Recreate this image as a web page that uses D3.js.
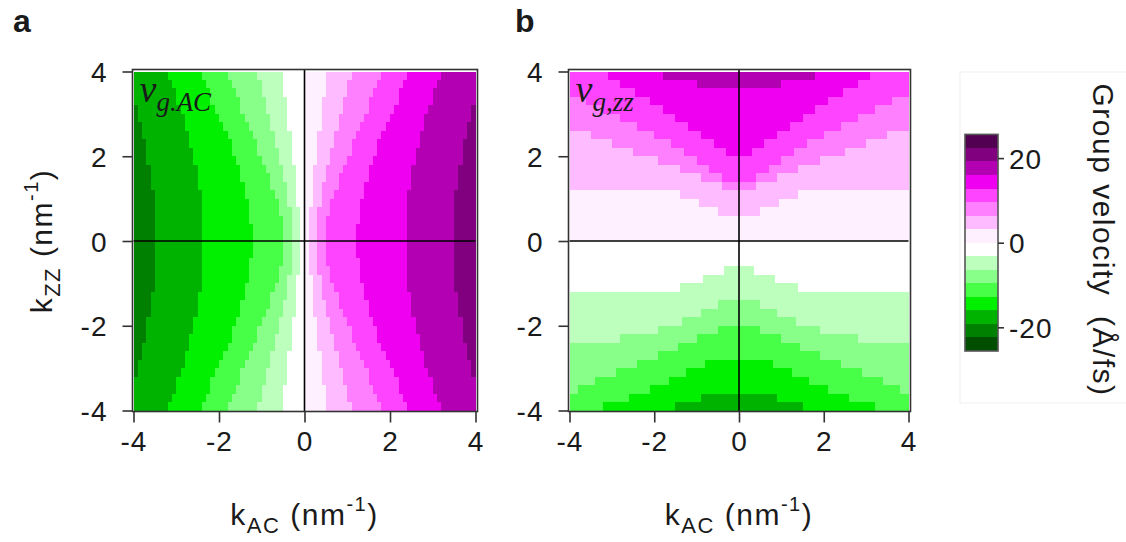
<!DOCTYPE html>
<html><head><meta charset="utf-8">
<script src="https://cdn.jsdelivr.net/npm/d3@7"></script>
<style>
body{margin:0;background:#fff}
svg{display:block}
text{font-family:"Liberation Sans",Arial,sans-serif;fill:#1a1a1a}
</style>
</head><body>
<svg id="chart" width="1126" height="542"></svg>
<script>
// ---------------- data ----------------
const kTicks = [-4, -2, 0, 2, 4];
const cbTicks = [-20, 0, 20];
// colour-table thresholds (Å/fs) and band colours (green -> white -> magenta)
const thresholds = [-22.4, -19.2, -16, -12.8, -9.6, -6.4, -3.2, 0, 3.2, 6.4, 9.6, 12.8, 16, 19.2, 22.4];
const bandColors = ["#004f00", "#008000", "#00b300", "#00f000", "#48ff48", "#88ff88", "#bdffbd", "#ffffff",
                    "#fff0ff", "#ffbbff", "#ff80ff", "#ff44ff", "#f000f0", "#b300b3", "#800080", "#520052"];
const cbRange = [-25.6, 25.6];
// k_ZZ row centres of the image (nm^-1), top to bottom
const kzzRows = [3.9, 3.7, 3.5, 3.3, 3.1, 2.9, 2.7, 2.5, 2.3, 2.1, 1.9, 1.7, 1.5, 1.3, 1.1, 0.9, 0.7, 0.5, 0.3, 0.1,
                 -0.1, -0.3, -0.5, -0.7, -0.9, -1.1, -1.3, -1.5, -1.7, -1.9, -2.1, -2.3, -2.5, -2.7, -2.9, -3.1, -3.3, -3.5, -3.7, -3.9];

// panel a (v_g,AC): k_AC where each row crosses each contour level
const acNeg19 = [-4.2,-4.1,-4.1,-4.0,-3.9,-3.9,-3.8,-3.8,-3.7,-3.7,-3.7,-3.6,-3.6,-3.6,-3.5,-3.5,-3.5,-3.5,-3.5,-3.5,
                 -3.5,-3.5,-3.5,-3.5,-3.5,-3.5,-3.6,-3.6,-3.6,-3.7,-3.7,-3.7,-3.8,-3.8,-3.9,-3.9,-4.0,-4.1,-4.1,-4.2];
const acNeg16 = [-3.2,-3.1,-3.0,-3.0,-2.9,-2.8,-2.8,-2.7,-2.7,-2.6,-2.6,-2.5,-2.5,-2.5,-2.4,-2.4,-2.4,-2.4,-2.4,-2.4,
                 -2.4,-2.4,-2.4,-2.4,-2.4,-2.4,-2.5,-2.5,-2.5,-2.6,-2.6,-2.7,-2.7,-2.8,-2.8,-2.9,-3.0,-3.0,-3.1,-3.2];
const acNeg13 = [-2.4,-2.3,-2.2,-2.2,-2.1,-2.0,-1.9,-1.8,-1.7,-1.7,-1.6,-1.5,-1.5,-1.4,-1.4,-1.3,-1.3,-1.3,-1.2,-1.2,
                 -1.2,-1.2,-1.3,-1.3,-1.3,-1.4,-1.4,-1.5,-1.5,-1.6,-1.7,-1.7,-1.8,-1.9,-2.0,-2.1,-2.2,-2.2,-2.3,-2.4];
const acNeg9  = [-1.8,-1.7,-1.6,-1.5,-1.5,-1.4,-1.3,-1.2,-1.1,-1.1,-1.0,-0.9,-0.8,-0.8,-0.7,-0.6,-0.6,-0.5,-0.5,-0.5,
                 -0.5,-0.5,-0.5,-0.6,-0.6,-0.7,-0.8,-0.8,-0.9,-1.0,-1.1,-1.1,-1.2,-1.3,-1.4,-1.5,-1.5,-1.6,-1.7,-1.8];
const acNeg6  = [-1.1,-1.0,-1.0,-0.9,-0.9,-0.8,-0.8,-0.7,-0.7,-0.6,-0.6,-0.5,-0.5,-0.4,-0.4,-0.4,-0.3,-0.3,-0.3,-0.3,
                 -0.3,-0.3,-0.3,-0.3,-0.4,-0.4,-0.4,-0.5,-0.5,-0.6,-0.6,-0.7,-0.7,-0.8,-0.8,-0.9,-0.9,-1.0,-1.0,-1.1];
const acNeg3  = [-0.5,-0.5,-0.5,-0.4,-0.4,-0.4,-0.4,-0.3,-0.3,-0.3,-0.3,-0.2,-0.2,-0.2,-0.2,-0.2,-0.1,-0.1,-0.1,-0.1,
                 -0.1,-0.1,-0.1,-0.1,-0.2,-0.2,-0.2,-0.2,-0.2,-0.3,-0.3,-0.3,-0.3,-0.4,-0.4,-0.4,-0.4,-0.5,-0.5,-0.5];
const acPos3  = [0.5,0.5,0.5,0.4,0.4,0.4,0.4,0.3,0.3,0.3,0.3,0.2,0.2,0.2,0.2,0.2,0.1,0.1,0.1,0.1,
                 0.1,0.1,0.1,0.1,0.2,0.2,0.2,0.2,0.2,0.3,0.3,0.3,0.3,0.4,0.4,0.4,0.4,0.5,0.5,0.5];
const acPos6  = [1.1,1.0,1.0,0.9,0.9,0.8,0.8,0.7,0.7,0.6,0.6,0.5,0.5,0.4,0.4,0.4,0.3,0.3,0.3,0.3,
                 0.3,0.3,0.3,0.3,0.4,0.4,0.4,0.5,0.5,0.6,0.6,0.7,0.7,0.8,0.8,0.9,0.9,1.0,1.0,1.1];
const acPos9  = [1.8,1.7,1.6,1.5,1.5,1.4,1.3,1.2,1.1,1.1,1.0,0.9,0.8,0.8,0.7,0.6,0.6,0.5,0.5,0.5,
                 0.5,0.5,0.5,0.6,0.6,0.7,0.8,0.8,0.9,1.0,1.1,1.1,1.2,1.3,1.4,1.5,1.5,1.6,1.7,1.8];
const acPos13 = [2.4,2.3,2.2,2.2,2.1,2.0,1.9,1.8,1.7,1.7,1.6,1.5,1.5,1.4,1.4,1.3,1.3,1.3,1.2,1.2,
                 1.2,1.2,1.3,1.3,1.3,1.4,1.4,1.5,1.5,1.6,1.7,1.7,1.8,1.9,2.0,2.1,2.2,2.2,2.3,2.4];
const acPos16 = [3.2,3.1,3.0,3.0,2.9,2.8,2.8,2.7,2.7,2.6,2.6,2.5,2.5,2.5,2.4,2.4,2.4,2.4,2.4,2.4,
                 2.4,2.4,2.4,2.4,2.4,2.4,2.5,2.5,2.5,2.6,2.6,2.7,2.7,2.8,2.8,2.9,3.0,3.0,3.1,3.2];
const acPos19 = [4.2,4.1,4.1,4.0,3.9,3.9,3.8,3.8,3.7,3.7,3.7,3.6,3.6,3.6,3.5,3.5,3.5,3.5,3.5,3.5,
                 3.5,3.5,3.5,3.5,3.5,3.5,3.6,3.6,3.6,3.7,3.7,3.7,3.8,3.8,3.9,3.9,4.0,4.1,4.1,4.2];

// panel b (v_g,ZZ): half-width in k_AC of the region beyond each contour level
// upper rows (k_ZZ 4 -> 0)
const zzPos3  = [4.5,4.5,4.5,4.5,4.5,4.5,4.5,4.5,4.5,4.5,4.5,4.5,4.5,4.5,1.4,0.95,0.5,0,0,0];
const zzPos6  = [4.5,4.5,4.5,4.5,4.5,4.5,4.5,3.5,3.0,2.5,1.9,1.4,0.9,0.4,0,0,0,0,0,0];
const zzPos9  = [4.5,4.5,4.5,3.6,3.2,2.8,2.4,2.0,1.6,1.3,1.0,0.7,0.4,0,0,0,0,0,0,0];
const zzPos13 = [3.1,2.8,2.45,2.1,1.8,1.5,1.2,0.9,0.6,0.3,0,0,0,0,0,0,0,0,0,0];
const zzPos16 = [1.8,1.0,0,0,0,0,0,0,0,0,0,0,0,0,0,0,0,0,0,0];
// lower rows (k_ZZ 0 -> -4)
const zzNeg3  = [0,0,0,0.35,0.85,1.4,4.5,4.5,4.5,4.5,4.5,4.5,4.5,4.5,4.5,4.5,4.5,4.5,4.5,4.5];
const zzNeg6  = [0,0,0,0,0,0,0,0.5,0.9,1.35,1.9,2.8,4.5,4.5,4.5,4.5,4.5,4.5,4.5,4.5];
const zzNeg9  = [0,0,0,0,0,0,0,0,0,0,0.5,1.0,1.45,1.9,2.4,2.9,3.4,3.8,4.5,4.5];
const zzNeg13 = [0,0,0,0,0,0,0,0,0,0,0,0,0,0,0.8,1.25,1.65,2.1,2.6,3.2];
const zzNeg16 = [0,0,0,0,0,0,0,0,0,0,0,0,0,0,0,0,0,0,0.9,1.5];

// ---------------- drawing ----------------
const svg = d3.select("#chart");
const color = d3.scaleThreshold().domain(thresholds).range(bandColors);
const bandValue = i => i === 0 ? thresholds[0] - 1.6 : i === thresholds.length ? thresholds[thresholds.length - 1] + 1.6
                                : (thresholds[i - 1] + thresholds[i]) / 2;
const rowH = 0.2;
const fmt = d => String(d);

const y = d3.scaleLinear().domain([-4, 4]).range([410.5, 71.5]);
const xA = d3.scaleLinear().domain([-4, 4]).range([133.5, 475.5]);
const xB = d3.scaleLinear().domain([-4, 4]).range([569.5, 908.5]);
const clamp = v => Math.max(-4, Math.min(4, v));

function cell(g, x, x0, x1, yc, band) {
  const a = clamp(x0), b = clamp(x1);
  if (b <= a) return;
  g.append("rect")
    .attr("x", x(a)).attr("width", x(b) - x(a))
    .attr("y", y(yc + rowH / 2)).attr("height", y(yc - rowH / 2) - y(yc + rowH / 2))
    .attr("fill", color(bandValue(band)))
    .attr("shape-rendering", "crispEdges");
}

// panel a heat map
const gA = svg.append("g");
kzzRows.forEach((yc, r) => {
  const cuts = [acNeg19[r], acNeg16[r], acNeg13[r], acNeg9[r], acNeg6[r], acNeg3[r], 0,
                acPos3[r], acPos6[r], acPos9[r], acPos13[r], acPos16[r], acPos19[r]];
  const edges = [-4, ...cuts, 4];
  for (let i = 0; i < edges.length - 1; i++) cell(gA, xA, edges[i], edges[i + 1], yc, i + 1);
});

// panel b heat map
const gB = svg.append("g");
const upper = [zzPos3, zzPos6, zzPos9, zzPos13, zzPos16];
const lower = [zzNeg3, zzNeg6, zzNeg9, zzNeg13, zzNeg16];
kzzRows.forEach((yc, r) => {
  if (yc > 0) {
    cell(gB, xB, -4, 4, yc, 8);
    upper.forEach((arr, k) => { const w = arr[r]; if (w > 0) cell(gB, xB, -w, w, yc, 9 + k); });
  } else {
    const rr = r - 20;
    cell(gB, xB, -4, 4, yc, 7);
    lower.forEach((arr, k) => { const w = arr[rr]; if (w > 0) cell(gB, xB, -w, w, yc, 6 - k); });
  }
});

function kLabel(sel, sub) {
  sel.style("font-size", "30px").style("letter-spacing", "1.5px");
  sel.append("tspan").text("k");
  sel.append("tspan").text(sub).attr("dy", 8).style("font-size", "22px");
  sel.append("tspan").text(" (nm").attr("dy", -8);
  sel.append("tspan").text("-1").attr("dy", -14).style("font-size", "20px");
  sel.append("tspan").text(")").attr("dy", 14);
}

// frames, zero lines, axes
function decorate(x, label) {
  const g = svg.append("g");
  g.append("line").attr("x1", x(-4)).attr("x2", x(4)).attr("y1", y(0)).attr("y2", y(0))
    .attr("stroke", "#000").attr("stroke-width", 1.6);
  g.append("line").attr("x1", x(0)).attr("x2", x(0)).attr("y1", y(4) - 2).attr("y2", y(-4) + 1)
    .attr("stroke", "#000").attr("stroke-width", 1.6);
  g.append("rect").attr("x", x(-4) - 1).attr("y", y(4) - 2).attr("width", x(4) - x(-4) + 3).attr("height", y(-4) - y(4) + 3)
    .attr("fill", "none").attr("stroke", "#333").attr("stroke-width", 1.6);

  const ax = g.append("g").attr("transform", `translate(0,${y(-4) + 1})`)
    .call(d3.axisBottom(x).tickValues(kTicks).tickSize(11).tickPadding(9).tickFormat(fmt));
  const ay = g.append("g").attr("transform", `translate(${x(-4) - 1},0)`)
    .call(d3.axisLeft(y).tickValues(kTicks).tickSize(10).tickPadding(15).tickFormat(fmt));
  [ax, ay].forEach(a => {
    a.select(".domain").remove();
    a.selectAll(".tick line").attr("stroke", "#333").attr("stroke-width", 1.6);
    a.selectAll(".tick text").style("font-size", "28px").style("letter-spacing", "1px").attr("fill", "#1a1a1a")
      .style("font-family", '"Liberation Sans", Arial, sans-serif');
  });
  ay.selectAll(".tick text").attr("dy", "0.36em");

  // x title
  kLabel(g.append("text").attr("x", x(0)).attr("y", 525).attr("text-anchor", "middle"), "AC");

  // inner label
  const v = g.append("text").attr("x", x(-4) + 6).attr("y", 102)
    .style("font-family", '"Liberation Serif", "DejaVu Serif", serif').style("font-style", "italic").style("font-size", "38px");
  v.append("tspan").text("v");
  v.append("tspan").text(label).attr("dy", 9).style("font-size", "27px");
}
decorate(xA, "g.AC");
decorate(xB, "g,zz");

// y title
kLabel(svg.append("text").attr("transform", `translate(52,${y(0)}) rotate(-90)`).attr("text-anchor", "middle"), "ZZ");

// panel letters
svg.append("text").attr("x", 13).attr("y", 32).text("a").style("font-size", "32px").style("font-weight", "bold");
svg.append("text").attr("x", 515).attr("y", 32).text("b").style("font-size", "32px").style("font-weight", "bold");

// colour bar
svg.append("rect").attr("x", 960).attr("y", 72).attr("width", 170).attr("height", 331)
  .attr("fill", "none").attr("stroke", "#efefef").attr("stroke-width", 1);
const cb = d3.scaleLinear().domain(cbRange).range([351, 134.4]);
const cbEdges = [cbRange[0], ...thresholds, cbRange[1]];
const gC = svg.append("g");
for (let i = 0; i < cbEdges.length - 1; i++) {
  gC.append("rect").attr("x", 965).attr("width", 33)
    .attr("y", cb(cbEdges[i + 1])).attr("height", cb(cbEdges[i]) - cb(cbEdges[i + 1]))
    .attr("fill", color(bandValue(i))).attr("shape-rendering", "crispEdges");
}
gC.append("rect").attr("x", 965).attr("y", cb(cbRange[1])).attr("width", 33).attr("height", cb(cbRange[0]) - cb(cbRange[1]))
  .attr("fill", "none").attr("stroke", "#555").attr("stroke-width", 1.6);
const cax = gC.append("g").attr("transform", "translate(998,0)")
  .call(d3.axisRight(cb).tickValues(cbTicks).tickSize(6).tickPadding(5).tickFormat(fmt));
cax.select(".domain").remove();
cax.selectAll(".tick line").attr("stroke", "#333").attr("stroke-width", 1.6);
cax.selectAll(".tick text").style("font-size", "28px").style("letter-spacing", "1px").attr("fill", "#1a1a1a").attr("dy", "0.36em")
  .style("font-family", '"Liberation Sans", Arial, sans-serif');
svg.append("text").attr("transform", "translate(1093,240) rotate(90)").attr("text-anchor", "middle")
  .style("font-size", "30px").style("letter-spacing", "1.5px").style("white-space", "pre")
  .text("Group velocity  (Å/fs)");
</script>
</body></html>
